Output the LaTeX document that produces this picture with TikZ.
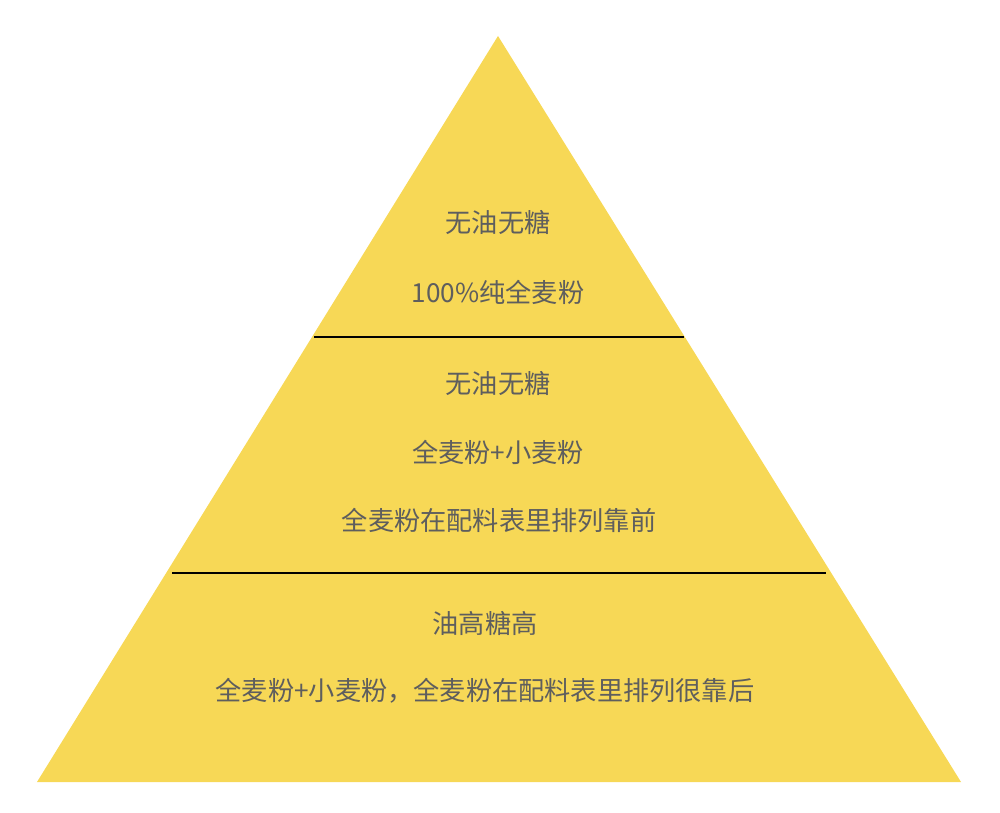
\documentclass[tikz,border=0pt]{standalone}
\usepackage{fontspec}
\setmainfont{Noto Sans CJK SC}
\definecolor{pyryellow}{HTML}{F7D856}
\definecolor{pyrtext}{HTML}{5E5E5E}
\tikzset{label/.style={text=pyrtext, font=\fontsize{7.45pt}{8pt}\selectfont, inner sep=0pt}}
\begin{document}
\begin{tikzpicture}[x=0.01cm, y=-0.01cm]
	\useasboundingbox (0,0) rectangle (1000,813);
	\fill[pyryellow] (498,36) -- (961,782) -- (37,782) -- cycle;
	\draw[line width=0.4pt] (314,337) -- (684,337) (172,573) -- (826,573);
	% top
	\node[label] (top1) at (498,222) {无油无糖};
	\node[label] (top2) at (498,292) {100\%纯全麦粉};
	% middle
	\node[label] (mid1) at (498,383) {无油无糖};
	\node[label] (mid2) at (498,452) {全麦粉+小麦粉};
	\node[label] (mid3) at (499,520) {全麦粉在配料表里排列靠前};
	% bottom
	\node[label] (bot1) at (485,623) {油高糖高};
	\node[label] (bot2) at (485,691) {全麦粉+小麦粉，全麦粉在配料表里排列很靠后};
\end{tikzpicture}
\end{document}
